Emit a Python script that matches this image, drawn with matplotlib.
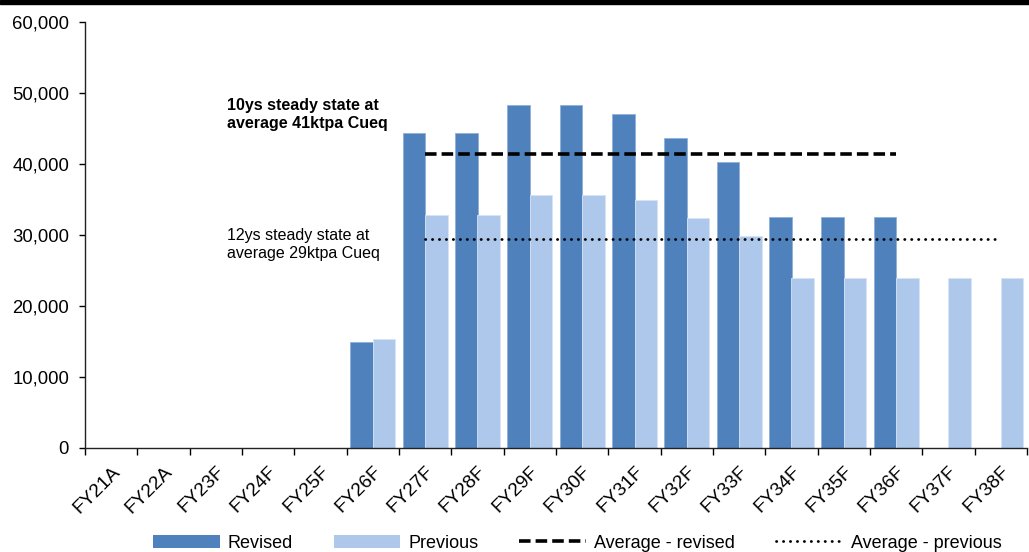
import matplotlib
matplotlib.use('Agg')
import matplotlib.pyplot as plt
from matplotlib.patches import Patch, Rectangle
from matplotlib.lines import Line2D
from matplotlib.ticker import FuncFormatter
import numpy as np

plt.rcParams['font.family'] = ['Liberation Sans', 'DejaVu Sans']

years = ['FY21A', 'FY22A', 'FY23F', 'FY24F', 'FY25F', 'FY26F', 'FY27F', 'FY28F', 'FY29F',
         'FY30F', 'FY31F', 'FY32F', 'FY33F', 'FY34F', 'FY35F', 'FY36F', 'FY37F', 'FY38F']
# copper equivalent production, t
revised = [0, 0, 0, 0, 0, 14900, 44300, 44300, 48300,
           48300, 47000, 43700, 40300, 32500, 32500, 32500, 0, 0]
previous = [0, 0, 0, 0, 0, 15400, 32800, 32800, 35700,
            35700, 34900, 32400, 29900, 23900, 23900, 23900, 23900, 23900]

# steady state windows
rev_years = years[6:16]   # FY27F-FY36F
prev_years = years[6:18]  # FY27F-FY38F

c_rev = '#4f81bd'
c_prev = '#adc8eb'

fig = plt.figure(figsize=(10.29, 5.52), dpi=100)
ax = fig.add_axes([85/1029, 1-448/552, 942/1029, 426/552])

# black rule across the top
fig.patches.append(Rectangle((0, 1-4/552), 1, 4/552, transform=fig.transFigure,
                             color='black', zorder=5))

x = np.arange(len(years)) + 0.5
w = 0.43
ax.bar(x - w/2, revised, w, color=c_rev, edgecolor='#8fb0d8', linewidth=0.6, zorder=2)
ax.bar(x + w/2, previous, w, color=c_prev, edgecolor='#d6e3f4', linewidth=0.6, zorder=2)

avg_rev = np.mean([revised[years.index(y)] for y in rev_years])
avg_prev = np.mean([previous[years.index(y)] for y in prev_years])
xr = [x[years.index(rev_years[0])], x[years.index(rev_years[-1])]]
xp = [x[years.index(prev_years[0])], x[years.index(prev_years[-1])]]
dash_rev = dict(color='black', lw=2.6, dashes=(3.2, 1.4))
dot_prev = dict(color='black', lw=2.0, dashes=(0.1, 2.4), dash_capstyle='round')
ax.plot(xr, [avg_rev, avg_rev], zorder=3, **dash_rev)
ax.plot(xp, [avg_prev, avg_prev], zorder=3, **dot_prev)

ax.text(2.72, 49350, '10ys steady state at\naverage 41ktpa Cueq', fontsize=11.5,
        fontweight='bold', va='top', ha='left', linespacing=1.25)
ax.text(2.72, 31000, '12ys steady state at\naverage 29ktpa Cueq', fontsize=11.5,
        va='top', ha='left', linespacing=1.25)

ax.set_xlim(0, len(years))
ax.set_ylim(0, 60000)
ax.set_yticks(np.arange(0, 60001, 10000))
ax.yaxis.set_major_formatter(FuncFormatter(lambda v, p: f'{int(v):,}'))
ax.tick_params(axis='y', labelsize=13.3, length=4, width=1, direction='out', pad=7.5)

ax.set_xticks(np.arange(len(years) + 1))
ax.set_xticklabels([])
ax.tick_params(axis='x', which='major', length=5, width=1, direction='out')
ax.set_xticks(x, minor=True)
ax.set_xticklabels(years, minor=True, rotation=45, ha='right', va='top',
                   rotation_mode='anchor', fontsize=13.8)
ax.tick_params(axis='x', which='minor', length=0, pad=11)

for s in ['top', 'right']:
    ax.spines[s].set_visible(False)
for s in ['left', 'bottom']:
    ax.spines[s].set_color('#222222')
    ax.spines[s].set_linewidth(1)

handles = [Patch(facecolor=c_rev, edgecolor='none'),
           Patch(facecolor=c_prev, edgecolor='none'),
           Line2D([], [], **dash_rev),
           Line2D([], [], **dot_prev)]
labels = ['Revised', 'Previous', 'Average - revised', 'Average - previous']
fig.legend(handles, labels, ncol=4, frameon=False, fontsize=13, handlelength=3.7,
           handletextpad=0.45, columnspacing=2.25, loc='center',
           bbox_to_anchor=(577/1029, 9/552), bbox_transform=fig.transFigure)

fig.savefig('out.png', dpi=100)
